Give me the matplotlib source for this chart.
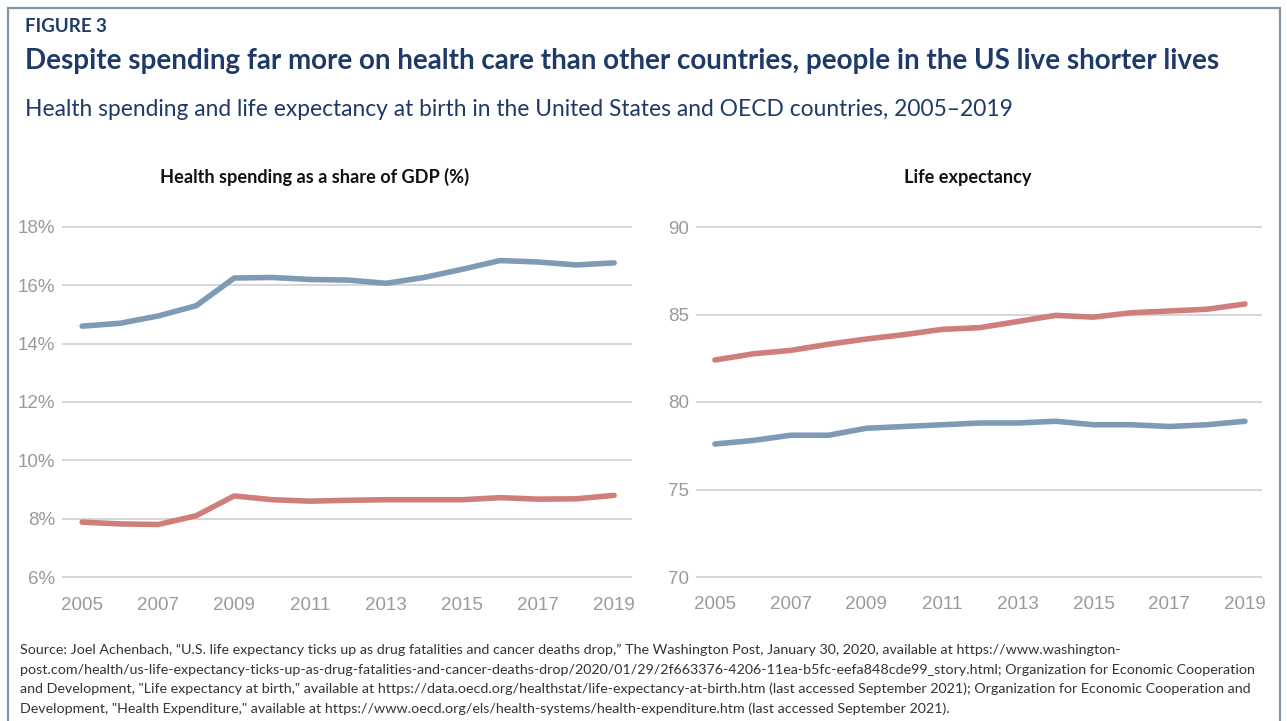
import matplotlib
matplotlib.use("Agg")
import matplotlib.pyplot as plt
from matplotlib.patches import Rectangle

W, H = 1287, 721

years = list(range(2005, 2020))
spend_us = [14.6, 14.7, 14.95, 15.3, 16.25, 16.27, 16.2, 16.18, 16.07, 16.27,
            16.55, 16.85, 16.8, 16.7, 16.77]
spend_oecd = [7.88, 7.82, 7.8, 8.1, 8.78, 8.65, 8.6, 8.63, 8.65, 8.65,
              8.65, 8.72, 8.67, 8.68, 8.8]
life_us = [77.6, 77.8, 78.1, 78.1, 78.5, 78.6, 78.7, 78.8, 78.8, 78.9,
           78.7, 78.7, 78.6, 78.7, 78.9]
life_oecd = [82.4, 82.75, 82.95, 83.3, 83.6, 83.85, 84.15, 84.25, 84.6, 84.95,
             84.85, 85.1, 85.2, 85.3, 85.6]
year_ticks = [2005, 2007, 2009, 2011, 2013, 2015, 2017, 2019]
spend_ticks = [6, 8, 10, 12, 14, 16, 18]
life_ticks = [70, 75, 80, 85, 90]

BLUE = "#7e9ab5"
RED = "#cf7f7b"
NAVY = "#1f3a68"
GRID = "#d3d3d3"
TICK = "#9a9a9a"

title_font = ["Lato", "DejaVu Sans"]
tick_font = ["Liberation Sans Narrow", "Liberation Sans", "DejaVu Sans"]

fig = plt.figure(figsize=(W / 100, H / 100), dpi=100)


def px_axes(x0, y0, x1, y1):
    # pixel box (top-left origin) -> figure axes
    return fig.add_axes([x0 / W, 1 - y1 / H, (x1 - x0) / W, (y1 - y0) / H])


# outer frame
fig.patches.append(Rectangle((8 / W, -0.05), (1280 - 8) / W, 1 - 8 / H + 0.05,
                             transform=fig.transFigure, fill=False,
                             edgecolor="#8593ab", linewidth=1.6))


def style(ax, ticks, fmt):
    for s in ax.spines.values():
        s.set_visible(False)
    ax.set_yticks(ticks)
    ax.set_yticklabels([fmt(t) for t in ticks])
    ax.set_xticks(year_ticks)
    ax.grid(axis="y", color=GRID, linewidth=1.3)
    ax.set_axisbelow(True)
    ax.tick_params(length=0, labelcolor=TICK, labelsize=13.5)
    ax.tick_params(axis="x", pad=10)
    ax.tick_params(axis="y", pad=5)
    for lab in ax.get_xticklabels() + ax.get_yticklabels():
        lab.set_family(tick_font)


# left panel: health spending
pad_l = 0.2 * (577 - 227) / 12
ax1 = px_axes(62, 227 - pad_l, 632, 577 + pad_l)
ax1.plot(years, spend_us, color=BLUE, linewidth=4, solid_capstyle="round")
ax1.plot(years, spend_oecd, color=RED, linewidth=4, solid_capstyle="round")
ax1.set_xlim(2004.47, 2019.47)
ax1.set_ylim(5.8, 18.2)
style(ax1, spend_ticks, lambda t: f"{t}%")

# right panel: life expectancy
pad_r = 0.3 * (577 - 227) / 20
ax2 = px_axes(696, 227 - pad_r, 1262, 577 + pad_r)
ax2.plot(years, life_oecd, color=RED, linewidth=4, solid_capstyle="round")
ax2.plot(years, life_us, color=BLUE, linewidth=4, solid_capstyle="round")
ax2.set_xlim(2004.5, 2019.45)
ax2.set_ylim(69.7, 90.3)
style(ax2, life_ticks, lambda t: f"{t}")

# panel titles
fig.text(315 / W, 1 - 177 / H, "Health spending as a share of GDP (%)",
         ha="center", va="center", fontsize=13.1, fontweight="bold",
         color="#111111", family=title_font)
fig.text(968 / W, 1 - 177 / H, "Life expectancy",
         ha="center", va="center", fontsize=13.1, fontweight="bold",
         color="#111111", family=title_font)

# header
fig.text(25 / W, 1 - 27 / H, "FIGURE 3", ha="left", va="center",
         fontsize=13.5, fontweight="bold", color=NAVY, family=title_font)
fig.text(25 / W, 1 - 61 / H,
         "Despite spending far more on health care than other countries, "
         "people in the US live shorter lives",
         ha="left", va="center", fontsize=20, fontweight="bold",
         color=NAVY, family=title_font)
fig.text(25 / W, 1 - 110 / H,
         "Health spending and life expectancy at birth in the United States "
         "and OECD countries, 2005\u20132019",
         ha="left", va="center", fontsize=16.4, color=NAVY, family=title_font)

# source note
source_lines = [
    "Source: Joel Achenbach, \u201cU.S. life expectancy ticks up as drug fatalities "
    "and cancer deaths drop,\u201d The Washington Post, January 30, 2020, available "
    "at https://www.washington-",
    "post.com/health/us-life-expectancy-ticks-up-as-drug-fatalities-and-cancer-"
    "deaths-drop/2020/01/29/2f663376-4206-11ea-b5fc-eefa848cde99_story.html; "
    "Organization for Economic Cooperation",
    "and Development, \"Life expectancy at birth,\" available at "
    "https://data.oecd.org/healthstat/life-expectancy-at-birth.htm (last accessed "
    "September 2021); Organization for Economic Cooperation and",
    "Development, \"Health Expenditure,\" available at "
    "https://www.oecd.org/els/health-systems/health-expenditure.htm (last accessed "
    "September 2021).",
]
for i, line in enumerate(source_lines):
    fig.text(20 / W, 1 - (650 + i * 19.5) / H, line, ha="left", va="center",
             fontsize=10.25, color="#333333", family=title_font)

fig.savefig("out.png", dpi=100)
